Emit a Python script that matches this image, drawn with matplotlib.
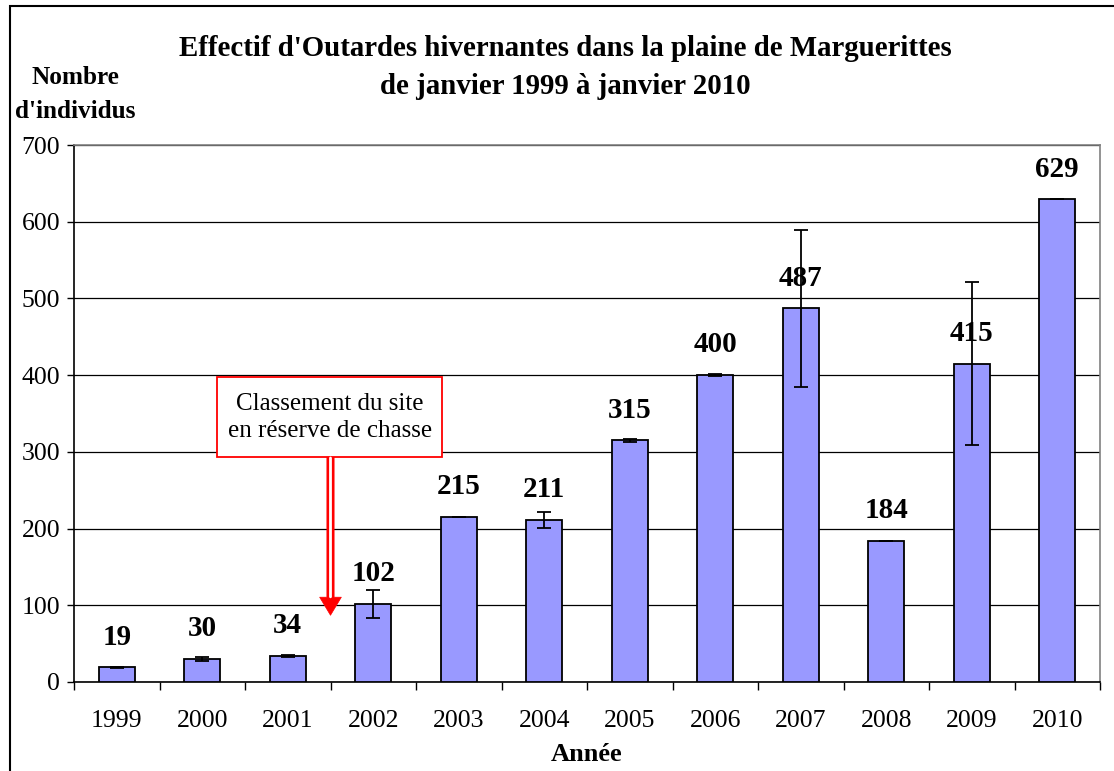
import matplotlib
matplotlib.use("Agg")
import matplotlib.pyplot as plt
from matplotlib.patches import Rectangle
import numpy as np

plt.rcParams['font.family'] = ['Liberation Serif', 'DejaVu Serif']

annees = ['1999', '2000', '2001', '2002', '2003', '2004',
          '2005', '2006', '2007', '2008', '2009', '2010']
effectifs = [19, 30, 34, 102, 215, 211, 315, 400, 487, 184, 415, 629]
ecarts = [1, 2, 1, 18, 0, 10, 2, 1, 102, 0, 106, 0]

fig = plt.figure(figsize=(11.14, 7.71), dpi=100)
ax = fig.add_axes([74 / 1114, 1 - 682 / 771, 1026 / 1114, 537 / 771])

x = np.arange(len(annees))
ax.bar(x, effectifs, width=0.42, color='#9999FF', edgecolor='black',
       linewidth=1.3, zorder=3)
ax.errorbar(x, effectifs, yerr=ecarts, fmt='none', ecolor='black',
            elinewidth=1.3, capsize=4.7, capthick=1.3, zorder=4)

for xi, v in zip(x, effectifs):
    ax.annotate(str(v), (xi, v), xytext=(0, 12), textcoords='offset points',
                ha='center', va='bottom', fontsize=21, fontweight='bold',
                zorder=5)

ax.set_xlim(-0.5, len(annees) - 0.5)
ax.set_ylim(0, 700)
ax.set_yticks(range(0, 701, 100))
ax.set_xticks(x)
ax.set_xticklabels(annees)
ax.set_xticks(np.arange(-0.5, len(annees)), minor=True)
ax.tick_params(axis='x', which='major', length=0, pad=20, labelsize=18.5)
ax.tick_params(axis='x', which='minor', length=6, width=1, direction='out')
ax.tick_params(axis='y', length=5, width=1, pad=5, labelsize=18.5)

ax.yaxis.grid(True, color='black', linewidth=0.9)
ax.set_axisbelow(True)
for s in ['top', 'right']:
    ax.spines[s].set_color('#808080')
    ax.spines[s].set_linewidth(1.2)
for s in ['left', 'bottom']:
    ax.spines[s].set_color('black')
    ax.spines[s].set_linewidth(1.2)

ax.set_xlabel('Année', fontsize=19, fontweight='bold', labelpad=8)

# encadré de l'annotation et flèche rouge à double trait
ax.add_patch(Rectangle((1.17, 293), 2.63, 105, facecolor='white',
                       edgecolor='red', linewidth=1.3, zorder=6))
ax.text(2.49, 345, 'Classement du site\nen réserve de chasse', ha='center',
        va='center', fontsize=18, linespacing=1.3, zorder=7)
ax.annotate('', xy=(2.5, 87), xytext=(2.5, 293),
            arrowprops=dict(arrowstyle='simple,head_length=0.65,'
                                       'head_width=0.78,tail_width=0.26',
                            mutation_scale=20, fc='red', ec='red', lw=0.5,
                            shrinkA=0, shrinkB=0),
            zorder=6)
ax.annotate('', xy=(2.5, 111), xytext=(2.5, 292),
            arrowprops=dict(arrowstyle='-', color='white', lw=2.0,
                            shrinkA=0, shrinkB=0),
            zorder=7)

fig.text(565 / 1114, 1 - 49 / 771,
         "Effectif d'Outardes hivernantes dans la plaine de Marguerittes",
         ha='center', va='center', fontsize=20.8, fontweight='bold')
fig.text(565 / 1114, 1 - 87 / 771, "de janvier 1999 à janvier 2010",
         ha='center', va='center', fontsize=20.8, fontweight='bold')
fig.text(75 / 1114, 1 - 77 / 771, 'Nombre', ha='center', va='center',
         fontsize=18.2, fontweight='bold')
fig.text(75 / 1114, 1 - 111 / 771, "d'individus", ha='center', va='center',
         fontsize=18.2, fontweight='bold')

# cadre du graphique
fig.patches.append(Rectangle((10 / 1114, -0.05), 1.1, 1 - 6 / 771 + 0.05,
                             transform=fig.transFigure, fill=False,
                             edgecolor='black', linewidth=1.5))

fig.savefig('out.png', dpi=100)
